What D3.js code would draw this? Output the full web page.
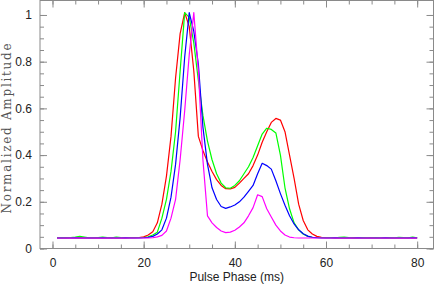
<!DOCTYPE html>
<html>
<head>
<meta charset="utf-8">
<script src="https://cdn.jsdelivr.net/npm/d3@7"></script>
<style>
  body { margin: 0; background: #fff; }
  svg { display: block; }
  .tick text { font-family: "Liberation Sans", Arial, sans-serif; font-size: 12px; fill: #222; }
</style>
</head>
<body>
<div id="chart"></div>
<script>
// pulse phase samples (ms)
const phase = d3.range(1, 81);

const red = [
  0.045, 0.045, 0.046, 0.045, 0.045, 0.046, 0.045, 0.045, 0.045, 0.046,
  0.045, 0.045, 0.046, 0.045, 0.045, 0.045, 0.046, 0.046, 0.047, 0.050,
  0.058, 0.072, 0.110, 0.190, 0.310, 0.480, 0.730, 0.920, 1.010, 0.950,
  0.760, 0.480, 0.420, 0.370, 0.330, 0.295, 0.270, 0.256, 0.255, 0.262,
  0.280, 0.300, 0.320, 0.355, 0.400, 0.455, 0.500, 0.540, 0.557, 0.550,
  0.500, 0.400, 0.300, 0.190, 0.120, 0.080, 0.062, 0.052, 0.048, 0.046,
  0.046, 0.045, 0.046, 0.045, 0.045, 0.046, 0.045, 0.045, 0.045, 0.046,
  0.045, 0.045, 0.045, 0.046, 0.045, 0.045, 0.045, 0.046, 0.045, 0.045
];
const green = [
  0.046, 0.047, 0.046, 0.047, 0.049, 0.052, 0.049, 0.046, 0.046, 0.047,
  0.049, 0.047, 0.046, 0.049, 0.047, 0.046, 0.046, 0.046, 0.046, 0.047,
  0.050, 0.058, 0.070, 0.130, 0.210, 0.330, 0.500, 0.760, 1.010, 0.990,
  0.880, 0.720, 0.570, 0.460, 0.380, 0.320, 0.280, 0.260, 0.258, 0.270,
  0.290, 0.320, 0.350, 0.390, 0.440, 0.490, 0.515, 0.510, 0.495, 0.400,
  0.260, 0.170, 0.110, 0.080, 0.062, 0.052, 0.048, 0.047, 0.046, 0.046,
  0.047, 0.046, 0.048, 0.049, 0.047, 0.046, 0.046, 0.047, 0.046, 0.046,
  0.047, 0.046, 0.046, 0.047, 0.046, 0.048, 0.047, 0.046, 0.049, 0.046
];
const blue = [
  0.045, 0.045, 0.045, 0.045, 0.046, 0.045, 0.045, 0.045, 0.045, 0.045,
  0.046, 0.045, 0.045, 0.045, 0.045, 0.046, 0.045, 0.045, 0.045, 0.046,
  0.048, 0.052, 0.062, 0.080, 0.130, 0.220, 0.360, 0.560, 0.820, 1.010,
  0.930, 0.790, 0.520, 0.360, 0.260, 0.210, 0.180, 0.172, 0.178, 0.186,
  0.200, 0.220, 0.245, 0.270, 0.320, 0.365, 0.355, 0.340, 0.290, 0.235,
  0.185, 0.140, 0.105, 0.080, 0.063, 0.053, 0.048, 0.046, 0.045, 0.045,
  0.045, 0.046, 0.045, 0.045, 0.045, 0.045, 0.046, 0.045, 0.045, 0.045,
  0.045, 0.045, 0.046, 0.045, 0.045, 0.045, 0.045, 0.045, 0.046, 0.045
];
const magenta = [
  0.045, 0.045, 0.045, 0.045, 0.045, 0.045, 0.045, 0.045, 0.045, 0.045,
  0.045, 0.045, 0.045, 0.045, 0.045, 0.045, 0.045, 0.045, 0.045, 0.045,
  0.045, 0.046, 0.050, 0.056, 0.075, 0.130, 0.210, 0.380, 0.590, 0.830,
  1.010, 0.760, 0.380, 0.140, 0.110, 0.090, 0.075, 0.068, 0.070, 0.078,
  0.092, 0.110, 0.140, 0.175, 0.230, 0.222, 0.170, 0.135, 0.100, 0.075,
  0.058, 0.049, 0.046, 0.045, 0.045, 0.045, 0.045, 0.045, 0.045, 0.045,
  0.045, 0.045, 0.045, 0.045, 0.045, 0.045, 0.045, 0.045, 0.045, 0.045,
  0.045, 0.045, 0.045, 0.045, 0.045, 0.045, 0.045, 0.045, 0.045, 0.045
];

const series = [
  { name: 'red', values: red, color: '#ff0000' },
  { name: 'green', values: green, color: '#00ff00' },
  { name: 'blue', values: blue, color: '#0000ff' },
  { name: 'magenta', values: magenta, color: '#ff00ff' }
];

const xMajor = [0, 20, 40, 60, 80];
const xMinor = d3.range(0, 81, 5);
const yMajor = [0, 0.2, 0.4, 0.6, 0.8, 1];
const yMinor = d3.range(0, 1.05, 0.05);

const width = 436, height = 286;
const margin = { top: 0.5, right: 2.5, bottom: 37.5, left: 40 };

const svg = d3.select('#chart').append('svg')
  .attr('width', width)
  .attr('height', height);

const x = d3.scaleLinear().domain([-2.74, 83.58]).range([margin.left, width - margin.right]);
const y = d3.scaleLinear().domain([0, 1.062]).range([height - margin.bottom, margin.top]);

const axisColor = '#8a8a8a';

function styleAxis(g) {
  g.select('.domain').remove();
  g.selectAll('.tick line').attr('stroke', axisColor).attr('stroke-width', 1);
}

// bottom axis (labels + major ticks pointing up)
svg.append('g')
  .attr('transform', `translate(0,${y(0)})`)
  .call(d3.axisBottom(x).tickValues(xMajor).tickSize(-7).tickPadding(10).tickFormat(d3.format('d')))
  .call(styleAxis);
svg.append('g')
  .attr('transform', `translate(0,${y(0)})`)
  .call(d3.axisBottom(x).tickValues(xMinor).tickSize(-4).tickFormat(''))
  .call(styleAxis);
// top axis
svg.append('g')
  .attr('transform', `translate(0,${margin.top})`)
  .call(d3.axisTop(x).tickValues(xMajor).tickSize(-7).tickFormat(''))
  .call(styleAxis);
svg.append('g')
  .attr('transform', `translate(0,${margin.top})`)
  .call(d3.axisTop(x).tickValues(xMinor).tickSize(-4).tickFormat(''))
  .call(styleAxis);
// left axis
svg.append('g')
  .attr('transform', `translate(${margin.left},0)`)
  .call(d3.axisLeft(y).tickValues(yMajor).tickSize(-7).tickPadding(8).tickFormat(d => d3.format('~g')(d)))
  .call(styleAxis);
svg.append('g')
  .attr('transform', `translate(${margin.left},0)`)
  .call(d3.axisLeft(y).tickValues(yMinor).tickSize(-4).tickFormat(''))
  .call(styleAxis);
// right axis
svg.append('g')
  .attr('transform', `translate(${width - margin.right},0)`)
  .call(d3.axisRight(y).tickValues(yMajor).tickSize(-7).tickFormat(''))
  .call(styleAxis);
svg.append('g')
  .attr('transform', `translate(${width - margin.right},0)`)
  .call(d3.axisRight(y).tickValues(yMinor).tickSize(-4).tickFormat(''))
  .call(styleAxis);

// frame
svg.append('rect')
  .attr('x', margin.left)
  .attr('y', margin.top)
  .attr('width', width - margin.right - margin.left)
  .attr('height', y(0) - margin.top)
  .attr('fill', 'none')
  .attr('stroke', axisColor)
  .attr('stroke-width', 1);

// curves
const line = d3.line()
  .x((d, i) => x(phase[i]))
  .y(d => y(d));

svg.append('g')
  .selectAll('path')
  .data(series)
  .join('path')
  .attr('d', d => line(d.values))
  .attr('fill', 'none')
  .attr('stroke', d => d.color)
  .attr('stroke-width', 1.2)
  .attr('stroke-linejoin', 'round');

// axis titles
svg.append('text')
  .attr('x', (margin.left + width - margin.right) / 2)
  .attr('y', 281)
  .attr('text-anchor', 'middle')
  .style('font-family', '"Liberation Sans", Arial, sans-serif')
  .style('font-size', '12px')
  .style('fill', '#222')
  .text('Pulse Phase (ms)');

svg.append('text')
  .attr('transform', `translate(11,${(margin.top + y(0)) / 2 + 4}) rotate(-90)`)
  .attr('text-anchor', 'middle')
  .attr('textLength', 170)
  .attr('lengthAdjust', 'spacing')
  .style('font-family', '"DejaVu Serif", serif')
  .style('font-size', '12px')
  .style('fill', '#555')
  .text('Normalized Amplitude');
</script>
</body>
</html>
